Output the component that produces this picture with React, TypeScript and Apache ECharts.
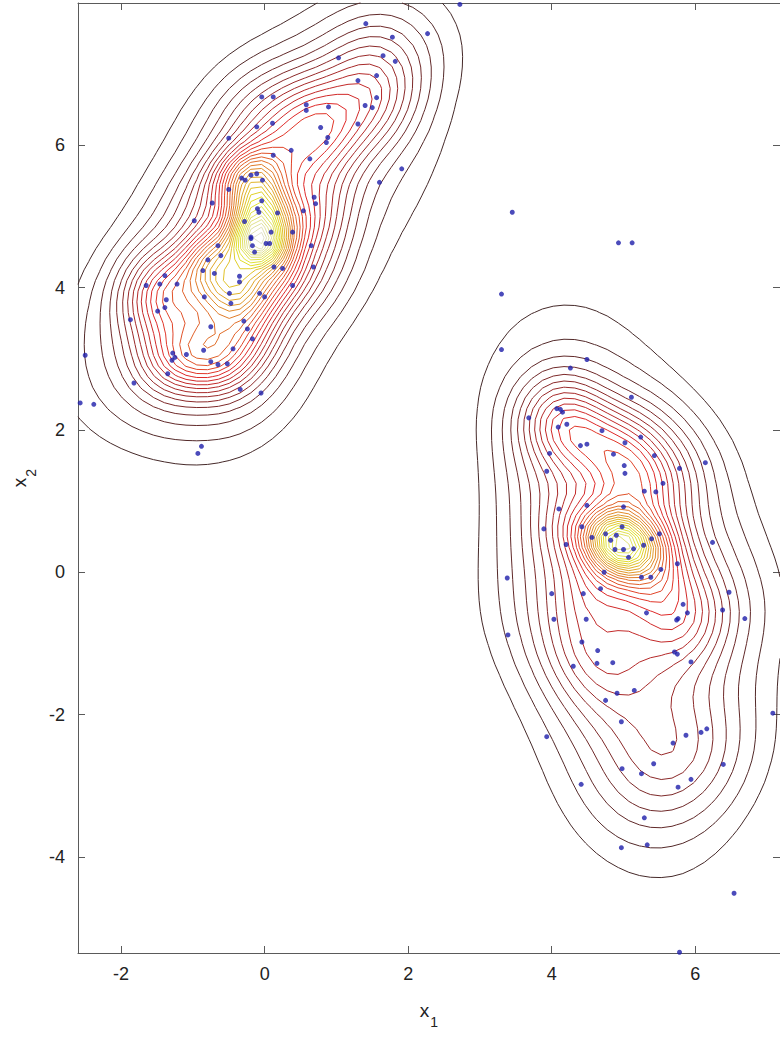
import React, { useEffect, useRef } from "react";
import * as echarts from "echarts";

// Axis ranges and ticks (data units)
const X_MIN = -2.6;
const X_MAX = 7.18;
const Y_MIN = -5.35;
const Y_MAX = 8.0;
const xTicks = [-2, 0, 2, 4, 6];
const yTicks = [-4, -2, 0, 2, 4, 6];

// Samples: upper-left cluster
const clusterA: number[][] = [
  [-0.04, 6.68], [-0.11, 6.26], [-0.5, 6.1], [-0.32, 5.54], [-0.27, 5.51], [-0.19, 5.58], [-0.11, 5.6], [-0.03, 5.51], [-0.5, 5.38], [-0.04, 5.22],
  [-0.73, 5.19], [-0.1, 5.11], [-0.08, 5.06], [-0.28, 4.93], [-0.98, 4.94], [-0.19, 4.71], [1.41, 7.71], [1.78, 7.52], [2.27, 7.57], [1.03, 7.23],
  [1.65, 7.26], [1.82, 7.18], [1.3, 6.91], [1.56, 6.98], [0.12, 6.68], [0.58, 6.57], [0.58, 6.49], [0.89, 6.54], [1.4, 6.56], [1.5, 6.53],
  [1.56, 6.67], [0.11, 6.31], [1.3, 6.3], [0.78, 6.25], [0.88, 6.11], [0.86, 6.04], [0.37, 5.93], [0.12, 5.86], [0.63, 5.81], [1.91, 5.67],
  [1.6, 5.48], [0.69, 5.27], [0.71, 5.18], [0.54, 5.08], [0.18, 5.05], [0.09, 4.78], [0.39, 4.78], [-0.19, 4.69], [-0.17, 4.59],
  [-0.14, 4.5], [0.02, 4.62], [-0.65, 4.59], [-0.61, 4.45], [-0.79, 4.39], [-0.86, 4.24], [-0.7, 4.2], [-0.35, 4.16], [-0.35, 4.08], [-1.39, 4.17],
  [-1.46, 4.05], [-1.65, 4.03], [-1.22, 4.05], [-1.37, 3.83], [-1.39, 3.72], [-1.49, 3.67], [-0.84, 3.87], [-0.49, 3.92], [-0.47, 3.78], [-0.07, 3.92],
  [0.0, 3.87], [-1.87, 3.55], [-0.75, 3.45], [-0.29, 3.53], [-0.24, 3.42], [-0.17, 3.28], [-0.44, 3.14], [-0.85, 3.12], [-1.28, 3.08], [-1.25, 3.02],
  [-1.29, 2.98], [-1.09, 3.06], [-0.75, 2.96], [-0.65, 2.92], [-0.52, 2.93], [-1.35, 2.79], [-1.82, 2.66], [-2.5, 3.05], [-0.34, 2.57], [-0.05, 2.52],
  [-2.38, 2.36], [-2.57, 2.38], [-0.88, 1.77], [-0.93, 1.67], [0.07, 4.62], [0.65, 4.59], [0.13, 4.29], [0.25, 4.27], [0.68, 4.29], [0.39, 4.03],
];

// lower-right cluster
const clusterB: number[][] = [
  [3.3, 3.13], [4.49, 2.99], [4.26, 2.87], [4.07, 2.3], [4.12, 2.29], [4.15, 2.25], [3.68, 2.17], [4.21, 2.08], [4.09, 2.04], [4.7, 1.99],
  [4.4, 1.78], [4.49, 1.8], [3.97, 1.67], [3.93, 1.42], [4.1, 0.89], [4.49, 0.94], [5.11, 2.46], [5.24, 1.9], [5.02, 1.82], [4.86, 1.66],
  [5.43, 1.64], [5.01, 1.5], [5.02, 1.39], [5.78, 1.46], [6.14, 1.54], [5.55, 1.25], [5.29, 1.14], [5.45, 1.13], [5.0, 0.92], [3.89, 0.61],
  [4.42, 0.64], [4.56, 0.49], [4.2, 0.39], [4.75, 0.54], [3.38, -0.08], [4.73, 0.0], [4.68, -0.23], [4.0, -0.3], [4.44, -0.3], [4.03, -0.66],
  [4.48, -0.66], [3.39, -0.88], [4.42, -0.98], [4.64, -1.1], [4.63, -1.28], [4.3, -1.32], [4.75, -1.8], [4.98, 0.64], [5.39, 0.47], [5.5, 0.54],
  [4.88, 0.32], [5.0, 0.32], [5.14, 0.33], [5.07, 0.21], [6.24, 0.42], [5.75, 0.12], [5.52, 0.04], [5.25, -0.07], [5.38, -0.07], [6.47, -0.28],
  [6.38, -0.53], [5.83, -0.45], [5.32, -0.57], [5.89, -0.57], [5.76, -0.65], [5.74, -0.67], [6.69, -0.65], [5.71, -1.12], [5.75, -1.15], [5.94, -1.26],
  [4.85, -1.27], [4.91, -1.7], [5.15, -1.66], [4.97, -2.1], [6.16, -2.2], [3.93, -2.31], [4.41, -2.98], [5.87, -2.29], [6.08, -2.25], [5.69, -2.4],
  [5.42, -2.69], [4.98, -2.76], [5.25, -2.83], [5.94, -2.91], [5.76, -3.02], [6.39, -2.7], [5.29, -3.45], [4.97, -3.87], [5.33, -3.83], [4.9, 0.52],
  [5.28, 0.38], [4.82, 0.45],
];

// isolated samples
const outliers: number[][] = [
  [2.72, 7.98], [3.45, 5.06], [4.93, 4.63], [5.12, 4.63], [3.3, 3.91], [7.08, -1.98], [6.54, -4.51], [5.78, -5.34],
];

const N_LEVELS = 34;
const FIRST_LEVEL = 2;
const WIDE_BW = 0.9;
const WIDE_WEIGHT = 0.9;
const PILOT_BW = 0.45;
const ADAPT = 0.8;
const MAX_BW = 0.9;
const GRID_STEP = 0.15;

function hot(t: number): string {
  const c = (v: number) => Math.max(0, Math.min(1, v));
  const r = c(t / 0.375);
  const g = c((t - 0.375) / 0.375);
  const b = c((t - 0.75) / 0.25);
  const mix = (v: number) => Math.round((v * 0.72 + 0.58 * 0.28) * 255);
  const h = (v: number) => mix(v).toString(16).padStart(2, "0");
  return "#" + h(r) + h(g) + h(b);
}

type Poly = { pts: number[][]; color: string };

function buildContours(samples: number[][]): Poly[] {
  const n = samples.length;
  const pilot = samples.map(([px, py]) => {
    let s = 0;
    for (const [qx, qy] of samples) {
      const d2 = (px - qx) ** 2 + (py - qy) ** 2;
      s += Math.exp(-d2 / (2 * PILOT_BW * PILOT_BW));
    }
    return s / (n * 2 * Math.PI * PILOT_BW * PILOT_BW);
  });
  const g = Math.exp(pilot.reduce((a, v) => a + Math.log(v), 0) / n);
  const bw = pilot.map((f) => Math.min(MAX_BW, PILOT_BW * Math.pow(f / g, -ADAPT)));

  const nx = Math.round((X_MAX - X_MIN) / GRID_STEP) + 1;
  const ny = Math.round((Y_MAX - Y_MIN) / GRID_STEP) + 1;
  const dx = (X_MAX - X_MIN) / (nx - 1);
  const dy = (Y_MAX - Y_MIN) / (ny - 1);
  const Z = new Float64Array(nx * ny);
  const wideNorm = WIDE_WEIGHT / (2 * Math.PI * WIDE_BW * WIDE_BW);
  let zmax = 0;
  for (let j = 0; j < ny; j++) {
    const y = Y_MIN + j * dy;
    for (let i = 0; i < nx; i++) {
      const x = X_MIN + i * dx;
      let s = 0;
      for (let k = 0; k < n; k++) {
        const h = bw[k];
        const d2 = (x - samples[k][0]) ** 2 + (y - samples[k][1]) ** 2;
        s += Math.exp(-d2 / (2 * h * h)) / (2 * Math.PI * h * h);
        s += wideNorm * Math.exp(-d2 / (2 * WIDE_BW * WIDE_BW));
      }
      s /= n;
      Z[j * nx + i] = s;
      if (s > zmax) zmax = s;
    }
  }

  const polys: Poly[] = [];
  for (let lv = FIRST_LEVEL; lv <= N_LEVELS; lv++) {
    const t = lv / (N_LEVELS + 1);
    const L = zmax * t;
    const color = hot(t);
    const pts = new Map<number, number[]>();
    const adj = new Map<number, number[]>();
    const keyPt = (key: number): number[] => {
      const horiz = key % 2 === 0;
      const idx = Math.floor(key / 2);
      const i = idx % nx;
      const j = Math.floor(idx / nx);
      const v1 = Z[j * nx + i];
      const v2 = horiz ? Z[j * nx + i + 1] : Z[(j + 1) * nx + i];
      const tt = (L - v1) / (v2 - v1);
      const x0 = X_MIN + i * dx;
      const y0 = Y_MIN + j * dy;
      return horiz ? [x0 + tt * dx, y0] : [x0, y0 + tt * dy];
    };
    const addSeg = (k1: number, k2: number) => {
      if (!pts.has(k1)) pts.set(k1, keyPt(k1));
      if (!pts.has(k2)) pts.set(k2, keyPt(k2));
      if (!adj.has(k1)) adj.set(k1, []);
      if (!adj.has(k2)) adj.set(k2, []);
      adj.get(k1)!.push(k2);
      adj.get(k2)!.push(k1);
    };
    for (let j = 0; j < ny - 1; j++) {
      for (let i = 0; i < nx - 1; i++) {
        const a = Z[j * nx + i];
        const b = Z[j * nx + i + 1];
        const c = Z[(j + 1) * nx + i + 1];
        const d = Z[(j + 1) * nx + i];
        const code = (a > L ? 1 : 0) | (b > L ? 2 : 0) | (c > L ? 4 : 0) | (d > L ? 8 : 0);
        if (code === 0 || code === 15) continue;
        const e = [
          2 * (j * nx + i),
          2 * (j * nx + i + 1) + 1,
          2 * ((j + 1) * nx + i),
          2 * (j * nx + i) + 1,
        ];
        const center = (a + b + c + d) / 4 > L;
        const segs: number[][] = [];
        switch (code) {
          case 1: segs.push([3, 0]); break;
          case 2: segs.push([0, 1]); break;
          case 3: segs.push([3, 1]); break;
          case 4: segs.push([1, 2]); break;
          case 5: if (center) { segs.push([0, 1], [2, 3]); } else { segs.push([3, 0], [1, 2]); } break;
          case 6: segs.push([0, 2]); break;
          case 7: segs.push([3, 2]); break;
          case 8: segs.push([2, 3]); break;
          case 9: segs.push([0, 2]); break;
          case 10: if (center) { segs.push([3, 0], [1, 2]); } else { segs.push([0, 1], [2, 3]); } break;
          case 11: segs.push([1, 2]); break;
          case 12: segs.push([3, 1]); break;
          case 13: segs.push([0, 1]); break;
          case 14: segs.push([3, 0]); break;
        }
        for (const s of segs) addSeg(e[s[0]], e[s[1]]);
      }
    }
    const used = new Set<string>();
    const ek = (p: number, q: number) => (p < q ? p + "_" + q : q + "_" + p);
    const walk = (start: number) => {
      const line = [pts.get(start)!];
      let cur = start;
      for (;;) {
        let next = -1;
        for (const nb of adj.get(cur)!) {
          const k = ek(cur, nb);
          if (!used.has(k)) { used.add(k); next = nb; break; }
        }
        if (next < 0) break;
        line.push(pts.get(next)!);
        cur = next;
      }
      if (line.length > 1) polys.push({ pts: line, color });
    };
    for (const [k, nb] of adj) if (nb.length === 1) walk(k);
    for (const [k, nb] of adj) {
      if (nb.some((m) => !used.has(ek(k, m)))) walk(k);
    }
  }
  return polys;
}

export default function App() {
  const ref = useRef<HTMLDivElement>(null);
  useEffect(() => {
    if (!ref.current) return;
    const chart = echarts.init(ref.current, undefined, { renderer: "svg" });
    const samples = [...clusterA, ...clusterB, ...outliers];
    const polys = buildContours(samples);
    const font = "Liberation Sans, Arial, Helvetica, sans-serif";
    const axisColor = "#5a5a5a";
    const baseAxis = {
      type: "value" as const,
      splitLine: { show: false },
      axisLine: { show: true, onZero: false, lineStyle: { color: axisColor, width: 1 } },
    };
    const nameRich = {
      a: { fontSize: 19, color: "#222", fontFamily: font, verticalAlign: "top" },
      b: { fontSize: 14, color: "#222", fontFamily: font, padding: [14, 0, 0, 1] },
    };
    chart.setOption({
      animation: false,
      backgroundColor: "#ffffff",
      grid: { left: 78, top: 3, right: -2, bottom: 84, containLabel: false },
      xAxis: [
        {
          ...baseAxis,
          min: X_MIN,
          max: X_MAX,
          position: "bottom",
          axisTick: { show: true, inside: true, length: 7, customValues: xTicks, lineStyle: { color: axisColor } },
          axisLabel: { customValues: xTicks, fontSize: 18, color: "#222", margin: 12, fontFamily: font },
          name: "{a|x}{b|1}",
          nameLocation: "middle",
          nameGap: 48,
          nameTextStyle: { rich: nameRich },
        },
        {
          ...baseAxis,
          min: X_MIN,
          max: X_MAX,
          position: "top",
          axisTick: { show: true, inside: true, length: 7, customValues: xTicks, lineStyle: { color: axisColor } },
          axisLabel: { show: false },
        },
      ],
      yAxis: [
        {
          ...baseAxis,
          min: Y_MIN,
          max: Y_MAX,
          position: "left",
          axisTick: { show: true, inside: true, length: 7, customValues: yTicks, lineStyle: { color: axisColor } },
          axisLabel: { customValues: yTicks, fontSize: 18, color: "#222", margin: 13, fontFamily: font },
          name: "{a|x}{b|2}",
          nameLocation: "middle",
          nameGap: 24,
          nameRotate: 90,
          nameTextStyle: { rich: nameRich },
        },
        {
          ...baseAxis,
          min: Y_MIN,
          max: Y_MAX,
          position: "right",
          axisTick: { show: true, inside: true, length: 7, customValues: yTicks, lineStyle: { color: axisColor } },
          axisLabel: { show: false },
        },
      ],
      series: [
        {
          type: "custom",
          coordinateSystem: "cartesian2d",
          xAxisIndex: 0,
          yAxisIndex: 0,
          silent: true,
          encode: { x: 0, y: 1 },
          data: polys.map((p, i) => [p.pts[0][0], p.pts[0][1], i]),
          renderItem: (params: any, api: any) => {
            const p = polys[params.dataIndex];
            return {
              type: "polyline",
              shape: { points: p.pts.map((q) => api.coord(q)) },
              style: { stroke: p.color, fill: null, lineWidth: 1 },
              silent: true,
            };
          },
          z: 2,
        },
        {
          type: "scatter",
          xAxisIndex: 0,
          yAxisIndex: 0,
          data: samples,
          symbol: "circle",
          symbolSize: 5,
          itemStyle: { color: "#1e1eaa" },
          silent: true,
          z: 3,
        },
      ],
    });
    return () => chart.dispose();
  }, []);
  return (
    <div
      ref={ref}
      style={{ position: "fixed", left: 0, top: 0, width: 780, height: 1037, background: "#fff" }}
    />
  );
}
